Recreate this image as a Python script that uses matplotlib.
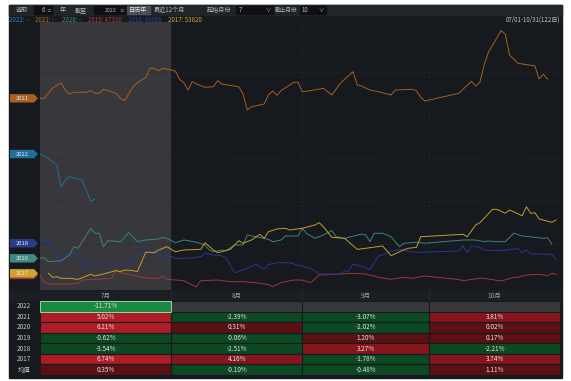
import matplotlib
matplotlib.use('Agg')
import matplotlib.pyplot as plt
import matplotlib.transforms as mtransforms
from matplotlib.patches import Rectangle, Polygon

plt.rcParams['font.family'] = ['Noto Sans CJK SC', 'DejaVu Sans']

# ---------------- data ----------------
years = ['2022', '2021', '2020', '2019', '2018', '2017']
legend_last = ['-', '-', '-', '47330', '49060', '53820']

d22 = [0, 2, 4, 5, 6, 7, 10, 12, 13]
p22 = [61670, 61160, 60370, 57690, 58580, 58970, 58520, 56020, 56320]

d21 = [0, 1, 3, 5, 6, 7, 8, 11, 12, 13, 14, 15, 18, 19, 20, 22, 23, 25, 26, 27,
       28, 29, 31, 32, 33, 34, 35, 36, 37, 39, 41, 42, 43, 45, 47, 48, 49, 50, 53, 54,
       55, 56, 57, 60, 61, 62, 64, 67, 69, 71, 74, 75, 76, 78, 80, 83, 84, 88, 89, 90,
       91, 99, 102, 103, 104, 105, 106, 109, 110, 111, 113, 117, 118, 119, 120]
p21 = [68300, 68300, 69530, 70160, 69210, 68810, 69020, 69020, 69210, 68900,
       68900, 69370, 68900, 68300, 68020, 69680, 70160, 70800, 71870, 71870,
       71590, 71870, 71670, 71550, 70560, 70160, 69290, 70280, 70000, 69610,
       69680, 70400, 70000, 69830, 69680, 68810, 66910, 67300, 67620, 68700,
       69170, 68660, 69210, 70210, 70210, 69090, 69210, 69490, 68700, 70090,
       71470, 69890, 69770, 69290, 69090, 68700, 69290, 69370, 69210, 68420,
       67980, 68900, 70330, 69770, 70210, 72270, 73780, 76350, 75950, 73460,
       72470, 72150, 70600, 71160, 70600]

d20 = [0, 1, 2, 5, 7, 8, 9, 12, 13, 14, 15, 16, 19, 21, 23, 25, 28, 29, 30, 32,
       34, 35, 37, 39, 40, 41, 43, 44, 46, 48, 49, 51, 54, 55, 57, 58, 61, 62, 63, 65,
       67, 69, 70, 72, 76, 77, 78, 79, 81, 83, 85, 86, 89, 91, 100, 103, 105, 106, 108, 110,
       112, 114, 117, 119, 120, 121]
p20 = [49260, 49330, 48860, 48980, 49660, 50640, 50450, 52830, 52240, 52240,
       50640, 51360, 51240, 52310, 51240, 51440, 51560, 51760, 51640, 51120,
       51440, 51360, 51170, 50850, 50250, 50050, 50250, 50170, 50850, 50850,
       52040, 51830, 51520, 51240, 51440, 51920, 51920, 52830, 52240, 51640,
       52040, 52550, 51830, 51640, 52150, 52040, 51240, 52240, 52240, 51830,
       50640, 51050, 51170, 51050, 51440, 51440, 51240, 51320, 51240, 51240,
       52240, 51920, 51760, 51640, 51710, 50960]

d19 = [0, 1, 2, 5, 7, 9, 10, 13, 17, 18, 19, 22, 24, 26, 28, 29, 30, 32, 34, 36,
       37, 38, 42, 45, 48, 51, 53, 54, 55, 57, 60, 62, 64, 66, 71, 74, 77, 80, 83, 86,
       88, 91, 99, 100, 104, 105, 109, 112, 113, 115, 118, 120, 121, 122]
p19 = [47280, 46480, 46200, 46200, 46200, 46290, 46680, 46760, 46880, 47870,
       47550, 47280, 47000, 46880, 46880, 47160, 46760, 46680, 46600, 46090,
       45880, 46600, 46680, 46480, 46480, 46360, 46200, 46140, 45880, 46360,
       46680, 46680, 46360, 47280, 47390, 47480, 47390, 47000, 46760, 47000,
       46880, 47160, 46740, 46600, 46880, 46880, 46560, 47000, 47000, 47280,
       47360, 47190, 47480, 47330]

d18 = [0, 2, 4, 5, 6, 8, 9, 10, 11, 13, 16, 17, 18, 20, 22, 23, 25, 28, 29, 30,
       32, 35, 38, 39, 41, 43, 44, 46, 49, 51, 53, 54, 56, 59, 61, 64, 66, 71, 72, 73,
       74, 76, 78, 80, 81, 83, 86, 87, 89, 99, 100, 101, 102, 104, 105, 109, 113, 114, 115, 116,
       118, 121, 122]
p18 = [51050, 51440, 49660, 49060, 49660, 49980, 49450, 48140, 48860, 48740,
       48740, 48260, 48580, 48740, 49060, 49540, 50050, 49660, 49260, 49740,
       49260, 49260, 49450, 49860, 49660, 49570, 49260, 47550, 48070, 48580,
       47950, 48520, 48740, 48740, 48430, 48070, 47390, 47390, 47750, 47750,
       48580, 48350, 47950, 49540, 49660, 50130, 50330, 50050, 49980, 50130,
       50730, 49930, 50730, 50570, 50250, 50170, 50410, 49930, 50250, 49770,
       49770, 49740, 49060]

d17 = [2, 3, 4, 5, 7, 9, 11, 12, 13, 15, 17, 18, 19, 20, 22, 23, 25, 26, 27, 28,
       30, 32, 34, 38, 39, 41, 42, 43, 45, 47, 48, 50, 52, 53, 54, 56, 58, 59, 62, 65,
       66, 67, 69, 72, 75, 77, 81, 83, 85, 87, 89, 90, 100, 101, 103, 104, 107, 108, 110, 111,
       114, 115, 116, 117, 118, 121, 122]
p17 = [47480, 47000, 47070, 46880, 46880, 46760, 47160, 47360, 47160, 47390,
       47670, 47790, 47670, 47870, 47790, 47670, 49980, 49980, 49930, 50250,
       50640, 50050, 50250, 50330, 51120, 50250, 49930, 50050, 50330, 51360,
       51050, 51440, 52120, 51640, 52430, 52750, 52830, 52630, 52830, 53230,
       53500, 53020, 51760, 51640, 50330, 50450, 50730, 49570, 50050, 50450,
       50570, 51830, 52120, 51830, 53230, 53500, 55090, 55090, 54620, 55010,
       54330, 55400, 54620, 54690, 53940, 53550, 53820]

months = ['7月', '8月', '9月', '10月']
month_start = [0, 31, 62, 92, 123]
table_rows = ['2022', '2021', '2020', '2019', '2018', '2017', '均值']
pct_jul = [-11.71, 5.02, 6.21, -0.62, -3.54, 6.74, 0.35]
pct_aug = [None, -2.39, 0.31, -0.06, -2.51, 4.16, -0.10]
pct_sep = [None, -3.07, -2.02, 1.20, 3.27, -1.78, -0.48]
pct_oct = [None, 3.81, 0.02, 0.17, -2.21, 3.74, 1.11]

# ---------------- style ----------------
W, H = 571, 381
BG = '#16191e'
line_colors = {'2022': '#1f6e9c', '2021': '#a5601f', '2020': '#3c837e',
               '2019': '#a3353b', '2018': '#28388a', '2017': '#c49e2a'}
legend_colors = {'2022': '#2a86c0', '2021': '#b86a22', '2020': '#3f9690',
                 '2019': '#b33a40', '2018': '#3246a6', '2017': '#d2a92c'}
tag_colors = {'2022': '#1f6e9c', '2021': '#a8621e', '2020': '#3f8a85',
              '2019': '#a3353b', '2018': '#2a3a8c', '2017': '#d1a22c'}
series = {'2022': (d22, p22), '2021': (d21, p21), '2020': (d20, p20),
          '2019': (d19, p19), '2018': (d18, p18), '2017': (d17, p17)}

fig = plt.figure(figsize=(W / 100, H / 100), dpi=100)
fig.patch.set_facecolor('white')


def fx(x):
    return x / W


def fy(y):
    return 1 - y / H


def px_axes(x0, y0, x1, y1):
    return fig.add_axes([fx(x0), fy(y1), (x1 - x0) / W, (y1 - y0) / H])


# dark panel (behind everything)
fig.patches.append(Rectangle((fx(9), fy(378)), (562 - 9) / W, (378 - 5) / H,
                             transform=fig.transFigure, color=BG, zorder=-10))
# toolbar
fig.patches.append(Rectangle((fx(9), fy(15)), (562 - 9) / W, 10 / H,
                             transform=fig.transFigure, color='#212429', zorder=-9))

TXT = '#b4b6ba'
fs = 4.4


def box(x0, x1, color='#0e1013'):
    fig.patches.append(Rectangle((fx(x0), fy(14)), (x1 - x0) / W, 8 / H,
                                 transform=fig.transFigure, color=color, zorder=-8))


fig.text(fx(22), fy(10), '选取', color=TXT, fontsize=fs, ha='center', va='center')
box(34, 52)
fig.text(fx(45), fy(10), '6', color=TXT, fontsize=fs, ha='right', va='center')
fig.text(fx(49), fy(10), '≡', color='#777', fontsize=3.5, ha='center', va='center')
fig.text(fx(63), fy(10), '年', color=TXT, fontsize=fs, ha='center', va='center')
fig.text(fx(81), fy(10), '截至', color=TXT, fontsize=fs, ha='center', va='center')
box(94, 126)
fig.text(fx(117), fy(10), '2022', color=TXT, fontsize=fs - 0.6, ha='right', va='center')
fig.text(fx(122), fy(10), '≡', color='#777', fontsize=3.5, ha='center', va='center')
box(127, 150, '#4a4f5a')
fig.text(fx(138.5), fy(10), '日历年', color='#e6e6e6', fontsize=fs, ha='center', va='center')
fig.text(fx(169), fy(10), '最近12个月', color=TXT, fontsize=fs, ha='center', va='center')
fig.text(fx(219), fy(10), '起始月份', color=TXT, fontsize=fs, ha='center', va='center')
box(236, 273)
fig.text(fx(239), fy(10), '7', color=TXT, fontsize=fs, ha='left', va='center')
fig.text(fx(268), fy(10), '∨', color=TXT, fontsize=fs - 0.6, ha='center', va='center')
fig.text(fx(286), fy(10), '截止月份', color=TXT, fontsize=fs - 0.3, ha='center', va='center')
box(300, 326)
fig.text(fx(302), fy(10), '10', color=TXT, fontsize=fs, ha='left', va='center')
fig.text(fx(321), fy(10), '∨', color=TXT, fontsize=fs - 0.6, ha='center', va='center')

# legend row
leg_x = [9, 35, 62, 88, 128, 168]
for yr, last, lx in zip(years, legend_last, leg_x):
    fig.text(fx(lx), fy(19.5), f'{yr}: {last}', color=legend_colors[yr], fontsize=fs,
             ha='left', va='center')
fig.text(fx(560), fy(19.5), '07/01-10/31(122日)', color='#c8c8c8', fontsize=fs,
         ha='right', va='center')

# ---------------- main chart ----------------
PX_PER_DAY = 4.23
AX_L, AX_R, AX_T, AX_B = 40, 561, 22, 290
ax = px_axes(AX_L, AX_T, AX_R, AX_B)
ax.set_facecolor(BG)
ax.set_xlim(0, (AX_R - AX_L) / PX_PER_DAY)
ax.set_ylim(80000 - 119 * AX_B, 80000 - 119 * AX_T)
for s in ax.spines.values():
    s.set_visible(False)
ax.set_xticks([])
ax.set_yticks([])
ax.axvspan(month_start[0], month_start[1], color='#38383c', zorder=0, lw=0)
for lvl in [71430, 66320, 61200, 56080, 50960]:
    ax.axhline(lvl, color='#262a31', lw=0.5, ls=(0, (3, 3)), zorder=0.5)
for m in month_start[1:4]:
    ax.axvline(m, color='#262a31', lw=0.5, ls=(0, (3, 3)), zorder=0.5)

draw_order = ['2019', '2018', '2020', '2017', '2022', '2021']
for yr in draw_order:
    d, p = series[yr]
    ax.plot(d, p, color=line_colors[yr], lw=0.7, zorder=2)

# year tags on the left (2017 tag covers the 2019 tag, as in the original)
tr = mtransforms.blended_transform_factory(ax.transAxes, ax.transData)
ppy = (ax.get_ylim()[1] - ax.get_ylim()[0]) / (AX_B - AX_T)


def xa(px):
    return (px - AX_L) / (AX_R - AX_L)


for yr in ['2021', '2022', '2018', '2020', '2019', '2017']:
    d, p = series[yr]
    y0 = p[0]
    h = 4.2 * ppy
    poly = Polygon([(xa(10), y0 - h), (xa(34), y0 - h), (xa(38), y0),
                    (xa(34), y0 + h), (xa(10), y0 + h)], closed=True,
                   transform=tr, facecolor=tag_colors[yr], edgecolor='none',
                   clip_on=False, zorder=5)
    ax.add_patch(poly)
    if yr != '2019':
        ax.text(xa(22), y0, yr, transform=tr, color='#e6e6e6', fontsize=4.2,
                ha='center', va='center', clip_on=False, zorder=6)

# ---------------- table ----------------
tab = px_axes(9, 290.5, 561, 375)
tab.set_xlim(-(AX_L - 9) / PX_PER_DAY, (561 - AX_L) / PX_PER_DAY)
tab.set_ylim(6.5, -1.5)
tab.axis('off')
tab.add_patch(Rectangle((tab.get_xlim()[0], -1.5), tab.get_xlim()[1] - tab.get_xlim()[0], 1,
                        facecolor='#1b1e23', edgecolor='none'))
for i, m in enumerate(months):
    tab.text((month_start[i] + month_start[i + 1]) / 2, -1, m, color='#9a9ca0',
             fontsize=4.6, ha='center', va='center')
    if i > 0:
        tab.plot([month_start[i]] * 2, [-1.5, -0.5], color='#2b2f36', lw=0.5)


def cell_color(v):
    if v is None:
        return '#37383c'
    if v >= 5:
        return '#ae1d25'
    if v >= 3:
        return '#86161b'
    if v > 0:
        return '#5b1014'
    if v <= -5:
        return '#1a8a40'
    return '#0c4822'


cols = [pct_jul, pct_aug, pct_sep, pct_oct]
for r, name in enumerate(table_rows):
    tab.text(-3.8, r, name, color='#c4c6ca', fontsize=4.6, ha='center', va='center')
    for c, vals in enumerate(cols):
        v = vals[r]
        x0, x1 = month_start[c], month_start[c + 1]
        strong_green = v is not None and v <= -5
        edge = '#9fcfae' if strong_green else BG
        lw = 0.7 if strong_green else 0.8
        tab.add_patch(Rectangle((x0, r - 0.5), x1 - x0, 1, facecolor=cell_color(v),
                                edgecolor=edge, lw=lw, zorder=2 if strong_green else 1))
        if v is not None:
            tab.text((x0 + x1) / 2, r, f'{v:.2f}%', color='#e4e4e4', fontsize=4.6,
                     ha='center', va='center', zorder=3)

fig.savefig('out.png', dpi=100, facecolor=fig.get_facecolor())
